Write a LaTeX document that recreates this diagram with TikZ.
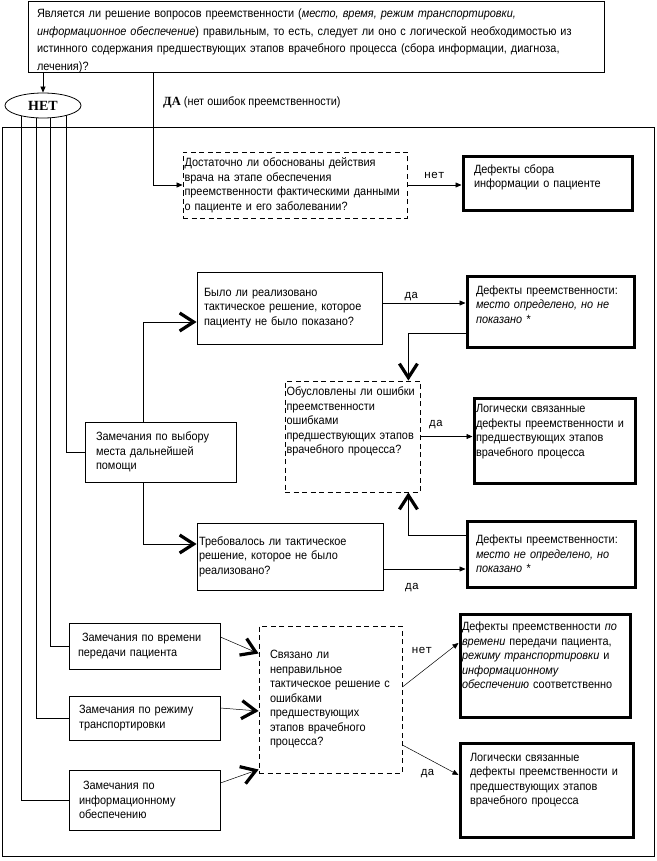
\documentclass[tikz,border=0pt]{standalone}
\usepackage{fontspec}
\setmainfont[FakeStretch=0.91]{Liberation Sans}
\newfontfamily\courfont{Liberation Mono}
\newfontfamily\timesfont{Liberation Serif}
\usepackage{tikz}
\usetikzlibrary{arrows.meta}
\usetikzlibrary{shapes.geometric}

\newcommand{\padbelow}[1]{\par\rule{0pt}{#1}}

\tikzset{
  plain/.style={draw, rectangle, align=left, inner ysep=0pt, line width=0.8pt, font=\fontsize{12}{14.5}\selectfont},
  dbox/.style={plain, dash pattern=on 5pt off 3.5pt},
  tbox/.style={plain, line width=3pt},
  lbl/.style={font=\courfont\fontsize{11.5}{13}\selectfont, inner sep=2pt},
  ln/.style={line width=0.8pt},
  arr/.style={line width=0.7pt, -{Triangle[length=6pt,width=5pt]}},
  chev/.style={line width=0.8pt, -{Straight Barb[length=14pt,width=18pt,line width=3.2pt]}}
}

\begin{document}
\begin{tikzpicture}[x=1pt, y=-1pt]
\useasboundingbox (0,0) rectangle (656,861);
\draw[ln] (2,127) rectangle (654,856);

\node at (316,37) (top) [plain, inner xsep=9pt, text width=558pt, minimum height=70pt, font=\fontsize{12}{17.5}\selectfont] {\rule{0pt}{16pt}Является ли решение вопросов преемственности (\textit{место, время, режим транспортировки,}\\\textit{информационное обеспечение}) правильным, то есть, следует ли оно с логической необходимостью из\\истинного содержания предшествующих этапов врачебного процесса (сбора информации, диагноза,\\лечения)?};
\node at (163,102) (dalbl) [anchor=west, inner sep=0pt, font=\fontsize{12}{14}\selectfont] {{\timesfont\bfseries\fontsize{12.5}{14}\selectfont ДА} (нет ошибок преемственности)};

\node at (295,185) (q1) [dbox, inner xsep=1.5pt, text width=221pt, minimum height=66pt] {Достаточно ли обоснованы действия\\врача на этапе обеспечения\\преемственности фактическими данными\\о пациенте и его заболевании?};
\node at (547.5,183.5) (d1) [tbox, inner xsep=11pt, text width=147pt, minimum height=53pt] {Дефекты сбора\\информации о пациенте\padbelow{10pt}};
\node at (289.5,308) (q2) [plain, inner xsep=7pt, text width=171pt, minimum height=72pt] {Было ли реализовано\\тактическое решение, которое\\пациенту не было показано?};
\node at (550.5,311.5) (d2) [tbox, inner xsep=9pt, text width=149pt, minimum height=71pt] {Дефекты преемственности:\\\textit{место определено, но не}\\\textit{показано *}\padbelow{9pt}};
\node at (352.5,436.5) (q4) [dbox, inner xsep=1.5pt, text width=132pt, minimum height=111pt] {Обусловлены ли ошибки\\преемственности\\ошибками\\предшествующих этапов\\врачебного процесса?\padbelow{29pt}};
\node at (554.5,440.5) (d3) [tbox, inner xsep=2pt, text width=157pt, minimum height=85pt] {Логически связанные\\дефекты преемственности и\\предшествующих этапов\\врачебного процесса\padbelow{17pt}};
\node at (160.5,452) (m1) [plain, inner xsep=11pt, text width=129pt, minimum height=60pt] {Замечания по выбору\\места дальнейшей\\помощи};
\node at (290,556.5) (q3) [plain, inner xsep=2pt, text width=182pt, minimum height=67pt] {Требовалось ли тактическое\\решение, которое не было\\реализовано?};
\node at (551,554) (d4) [tbox, inner xsep=9pt, text width=150pt, minimum height=66pt] {Дефекты преемственности:\\\textit{место не определено, но}\\\textit{показано *}};
\node at (144.5,646) (m2) [plain, inner xsep=9pt, text width=133pt, minimum height=46pt] {\hspace{4pt}Замечания по времени\\передачи пациента};
\node at (330.5,699.5) (q5) [dbox, inner xsep=11pt, text width=121pt, minimum height=147pt] {Связано ли\\неправильное\\тактическое решение с\\ошибками\\предшествующих\\этапов врачебного\\процесса?};
\node at (545,665.5) (d5) [tbox, inner xsep=2pt, text width=166pt, minimum height=103pt] {Дефекты преемственности \textit{по}\\\textit{времени} передачи пациента,\\\textit{режиму транспортировки} и\\\textit{информационному}\\\textit{обеспечению} соответственно\padbelow{19pt}};
\node at (144.5,718) (m3) [plain, inner xsep=10pt, text width=131pt, minimum height=44pt] {Замечания по режиму\\транспортировки};
\node at (144.5,800) (m4) [plain, inner xsep=10pt, text width=131pt, minimum height=60pt] {\hspace{4pt}Замечания по\\информационному\\обеспечению};
\node at (546.5,790) (d6) [tbox, inner xsep=10pt, text width=153pt, minimum height=94pt] {Логически связанные\\дефекты преемственности и\\предшествующих этапов\\врачебного процесса\padbelow{19pt}};

\coordinate (n1) at (21,105);
\coordinate (n2) at (36,105);
\coordinate (n3) at (50,105);
\coordinate (n4) at (66,105);
\coordinate (dax) at (153,0);
\coordinate (cx) at (143,0);
\draw[ln] (n4) |- (m1.west);
\draw[ln] (n3) |- (m2.west);
\draw[ln] (n2) |- (m3.west);
\draw[ln] (n1) |- (m4.west);

\node at (43,105.5) (net) [ellipse, draw, fill=white, line width=0.8pt, minimum width=76pt, minimum height=25pt, inner sep=0pt, font=\timesfont\bfseries\fontsize{14}{16}\selectfont] {НЕТ};
\draw[arr] (top.south -| net) -- (net);
\draw[arr] (top.south -| dax) |- (q1.west);

\path[arr] (q1.east) edge node [lbl, above=4pt] {нет} (q1.east -| d1.west);
\draw[chev] (m1.north -| cx) |- ([yshift=-14pt]q2.west);
\draw[chev] (m1.south -| cx) |- ([yshift=12.5pt]q3.west);
\path[arr] ([yshift=5pt]q2.east) edge node [lbl, above, pos=0.35] {да} ([yshift=5pt]q2.east -| d2.west);
\draw[chev] ([yshift=-21.5pt]d2.west) -| ([xshift=-12pt]q4.north east);
\draw[chev] ([yshift=19pt]d4.west) -| ([xshift=-12pt]q4.south east);
\path[arr] (q4.east) edge node [lbl, above=5pt, pos=0.3] {да} (q4.east -| d3.west);
\path[arr] ([yshift=-12.5pt]q3.east) edge node [lbl, below=12pt, pos=0.35] {да} ([yshift=-12.5pt]q3.east -| d4.west);

\draw[chev, line width=0.5pt] ([yshift=9pt]m2.east) -- ([yshift=46pt]q5.west);
\draw[chev, line width=0.5pt] ([yshift=10pt]m3.east) -- ([yshift=-11.5pt]q5.west);
\draw[chev, line width=0.5pt] ([yshift=17pt]m4.east) -- ([yshift=-70pt]q5.west);
\path[arr, line width=0.5pt] ([yshift=12.5pt]q5.east) edge node [lbl, pos=0.35, above=16pt] {нет} ([yshift=22.5pt]d5.west);
\path[arr, line width=0.5pt] ([yshift=-45.5pt]q5.east) edge node [lbl, pos=0.45, below=9pt] {да} ([yshift=15pt]d6.west);
\end{tikzpicture}
\end{document}
